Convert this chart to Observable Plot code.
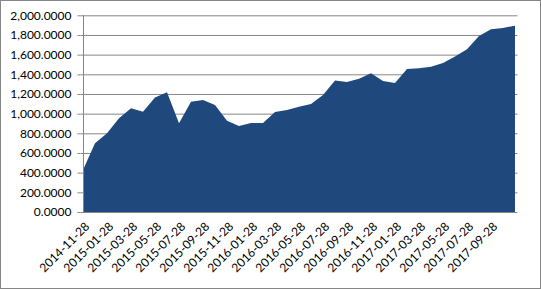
<!DOCTYPE html>
<html>
<head>
<meta charset="utf-8">
<script src="https://cdn.jsdelivr.net/npm/d3@7"></script>
<script src="https://cdn.jsdelivr.net/npm/@observablehq/plot@0.6"></script>
<style>
  html, body { margin: 0; padding: 0; background: #fff; }
  #chart svg { display: block; outline: 1px solid #868686; outline-offset: -1px; }
</style>
</head>
<body>
<div id="chart"></div>
<script>
const dates = [
  "2014-11-28","2014-12-28","2015-01-28","2015-02-28","2015-03-28","2015-04-28",
  "2015-05-28","2015-06-28","2015-07-28","2015-08-28","2015-09-28","2015-10-28",
  "2015-11-28","2015-12-28","2016-01-28","2016-02-28","2016-03-28","2016-04-28",
  "2016-05-28","2016-06-28","2016-07-28","2016-08-28","2016-09-28","2016-10-28",
  "2016-11-28","2016-12-28","2017-01-28","2017-02-28","2017-03-28","2017-04-28",
  "2017-05-28","2017-06-28","2017-07-28","2017-08-28","2017-09-28","2017-10-28",
  "2017-11-28"
];
const values = [
  427, 698, 800, 953, 1054, 1020,
  1163, 1217, 902, 1122, 1139, 1088,
  929, 875, 905, 905, 1017, 1037,
  1071, 1098, 1190, 1336, 1322, 1356,
  1410, 1332, 1312, 1454, 1461, 1478,
  1515, 1580, 1654, 1790, 1858, 1871,
  1895
];
const xTickLabels = [
  "2014-11-28","2015-01-28","2015-03-28","2015-05-28","2015-07-28","2015-09-28",
  "2015-11-28","2016-01-28","2016-03-28","2016-05-28","2016-07-28","2016-09-28",
  "2016-11-28","2017-01-28","2017-03-28","2017-05-28","2017-07-28","2017-09-28"
];
const yTicks = [0, 200, 400, 600, 800, 1000, 1200, 1400, 1600, 1800, 2000];

const data = dates.map((d, i) => ({date: d, value: values[i]}));
const fmt = d3.format(",.4f");
const gridColor = "#868686";

const chart = Plot.plot({
  width: 541,
  height: 289,
  marginLeft: 80.5,
  marginRight: 23.5,
  marginTop: 15.3,
  marginBottom: 77,
  style: {fontFamily: "Lato, 'Liberation Sans', sans-serif", fontSize: "12px", color: "#000", background: "#fff"},
  x: {type: "point", domain: dates, padding: 0},
  y: {domain: [0, 2000]},
  marks: [
    Plot.ruleY(yTicks.filter(t => t > 0), {stroke: gridColor, strokeWidth: 1}),
    Plot.areaY(data, {x: "date", y: "value", fill: "#1F497D"}),
    Plot.ruleX([dates[0]], {stroke: gridColor}),
    Plot.ruleY([0], {stroke: gridColor}),
    Plot.axisY({ticks: yTicks, tickFormat: fmt, tickSize: 3, tickPadding: 6.5, stroke: gridColor, label: null}),
    Plot.axisX({ticks: xTickLabels, tickRotate: -45, tickSize: 0, tickPadding: 12, dx: 4, label: null})
  ]
});
document.getElementById("chart").append(chart);
</script>
</body>
</html>
